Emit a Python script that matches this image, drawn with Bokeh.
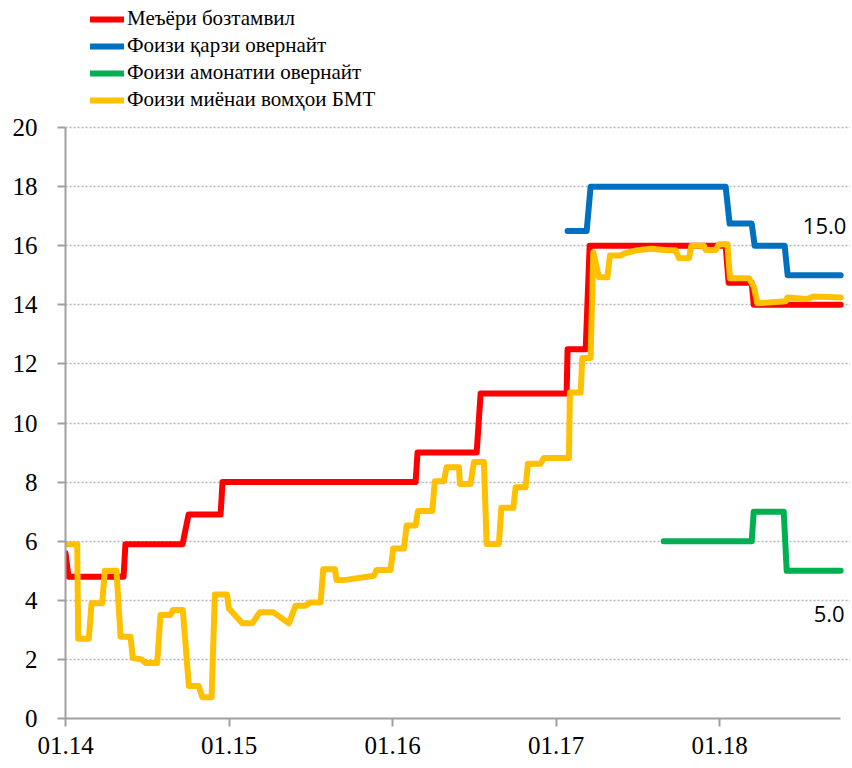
from bokeh.plotting import figure
from bokeh.models import (Range1d, FixedTicker, Legend, LegendItem, Label)
from bokeh.embed import file_html
from bokeh.resources import INLINE

# months since January 2014
refi_m = [0, 0.22, 4.26, 4.40, 8.59, 9.03, 11.38, 11.52, 25.69, 25.83, 30.17, 30.46,
          36.77, 36.84, 38.17, 38.46, 48.44, 48.66, 50.35, 50.50, 56.88]
refi_v = [5.6, 4.8, 4.8, 5.9, 5.9, 6.9, 6.9, 8.0, 8.0, 9.0, 9.0, 11.0,
          11.0, 12.5, 12.5, 16.0, 16.0, 14.75, 14.75, 14.0, 14.0]

loan_m = [36.84, 38.24, 38.53, 48.44, 48.73, 50.35, 50.57, 52.77, 52.99, 56.88]
loan_v = [16.5, 16.5, 18.0, 18.0, 16.75, 16.75, 16.0, 16.0, 15.0, 15.0]

dep_m = [43.89, 50.35, 50.50, 52.70, 52.92, 56.88]
dep_v = [6.0, 6.0, 7.0, 7.0, 5.0, 5.0]

ib_m = [0.12, 0.86, 0.93, 1.71, 1.91, 2.69, 2.88, 3.74, 4.04, 4.77, 4.94, 5.58, 5.87,
        6.73, 6.97, 7.71, 7.88, 8.61, 9.05, 9.78, 10.03, 10.72, 10.96, 11.85, 11.99,
        12.97, 13.70, 14.26, 15.24, 16.39, 16.88, 17.61, 17.98, 18.72, 18.91, 19.77,
        19.89, 20.68, 22.63, 22.83, 23.85, 24.05, 24.83, 25.03, 25.69, 25.86, 26.91,
        27.10, 27.77, 27.96, 28.87, 28.94, 29.72, 29.97, 30.70, 30.90, 31.80, 31.98,
        32.86, 33.03, 33.76, 33.93, 34.86, 35.10, 36.94, 37.01, 37.80, 37.92, 38.53,
        38.73, 39.14, 39.76, 39.95, 40.73, 40.98, 41.96, 42.94, 44.16, 44.77, 45.01,
        45.75, 45.92, 46.85, 46.97, 47.71, 47.95, 48.57, 48.76, 50.15, 50.52, 50.77,
        52.84, 52.97, 54.44, 54.90, 56.88]
ib_v = [5.9, 5.9, 2.7, 2.7, 3.9, 3.9, 5.0, 5.0, 2.77, 2.77, 2.05, 2.0, 1.88,
        1.88, 3.5, 3.5, 3.67, 3.67, 1.1, 1.1, 0.72, 0.72, 4.2, 4.2, 3.72,
        3.22, 3.22, 3.6, 3.6, 3.22, 3.82, 3.82, 3.93, 3.93, 5.05, 5.05,
        4.69, 4.7, 4.83, 5.03, 5.03, 5.75, 5.75, 6.53, 6.53, 7.02, 7.02,
        8.03, 8.03, 8.5, 8.5, 7.94, 7.94, 8.68, 8.68, 5.91, 5.91, 7.13,
        7.13, 7.83, 7.83, 8.62, 8.62, 8.82, 8.82, 11.03, 11.03, 12.2, 12.2,
        15.78, 14.93, 14.93, 15.67, 15.67, 15.73, 15.85, 15.9, 15.85, 15.85, 15.58,
        15.58, 16.0, 16.0, 15.86, 15.86, 16.05, 16.05, 14.9, 14.9, 14.6, 14.05,
        14.12, 14.25, 14.2, 14.28, 14.25]

series_names = ["Меъёри бозтамвил", "Фоизи қарзи овернайт",
                "Фоизи амонатии овернайт", "Фоизи миёнаи вомҳои БМТ"]
series_colors = ["#FF0000", "#0070C0", "#00B050", "#FFC000"]

x_ticks = [0, 12, 24, 36, 48]
x_tick_labels = ["01.14", "01.15", "01.16", "01.17", "01.18"]
y_ticks = [0, 2, 4, 6, 8, 10, 12, 14, 16, 18, 20]

end_labels = ["15.0", "5.0"]
end_label_m = [54.1, 54.9]
end_label_v = [16.68, 3.55]

# frame spans the whole canvas height above the x axis; axis lines are bounded
p = figure(width=850, height=766, output_backend="svg", toolbar_location=None,
           x_range=Range1d(0, 57.6), y_range=Range1d(0, 24.3),
           min_border_left=65, min_border_right=0, min_border_top=0,
           min_border_bottom=48)
p.outline_line_color = None
p.background_fill_color = "white"
p.border_fill_color = "white"

axis_col = "#A0A0A0"
for ax in (p.xaxis[0], p.yaxis[0]):
    ax.axis_line_color = axis_col
    ax.axis_line_width = 2
    ax.major_tick_line_color = axis_col
    ax.major_tick_line_width = 2
    ax.major_tick_out = 8
    ax.major_tick_in = 0
    ax.minor_tick_line_color = None
    ax.major_label_text_font = "Liberation Serif"
    ax.major_label_text_font_size = "25px"
    ax.major_label_text_color = "#000000"

p.xaxis.ticker = FixedTicker(ticks=x_ticks)
p.xaxis.major_label_overrides = {t: l for t, l in zip(x_ticks, x_tick_labels)}
p.xaxis.major_label_standoff = 10
p.xaxis.bounds = (0, 56.9)
p.yaxis.ticker = FixedTicker(ticks=y_ticks)
p.yaxis.major_label_standoff = 20
p.yaxis.bounds = (0, 20)

p.xgrid.grid_line_color = None
p.ygrid.grid_line_color = "#B4B4B4"
p.ygrid.grid_line_width = 1.5
p.ygrid.grid_line_dash = "2 2"

data = [(refi_m, refi_v), (loan_m, loan_v), (dep_m, dep_v), (ib_m, ib_v)]
renderers = []
for (xs, ys), col in zip(data, series_colors):
    r = p.line(xs, ys, line_color=col, line_width=6,
               line_join="round", line_cap="round")
    renderers.append(r)

items = [LegendItem(label=n, renderers=[r]) for n, r in zip(series_names, renderers)]
legend = Legend(items=items, location=(25, 606), orientation="vertical",
                background_fill_alpha=0, border_line_color=None,
                padding=0, margin=0, spacing=2,
                glyph_width=34, glyph_height=20, label_height=20,
                label_standoff=3,
                label_text_font="Liberation Sans Narrow",
                label_text_font_size="21px", label_text_color="#000000")
p.add_layout(legend, "center")

for t, xm, yv in zip(end_labels, end_label_m, end_label_v):
    p.add_layout(Label(x=xm, y=yv, text=t, text_font="Open Sans",
                       text_font_size="22px", text_color="#000000",
                       text_baseline="middle", text_align="left"))

open("out.html", "w").write(file_html(p, INLINE))
